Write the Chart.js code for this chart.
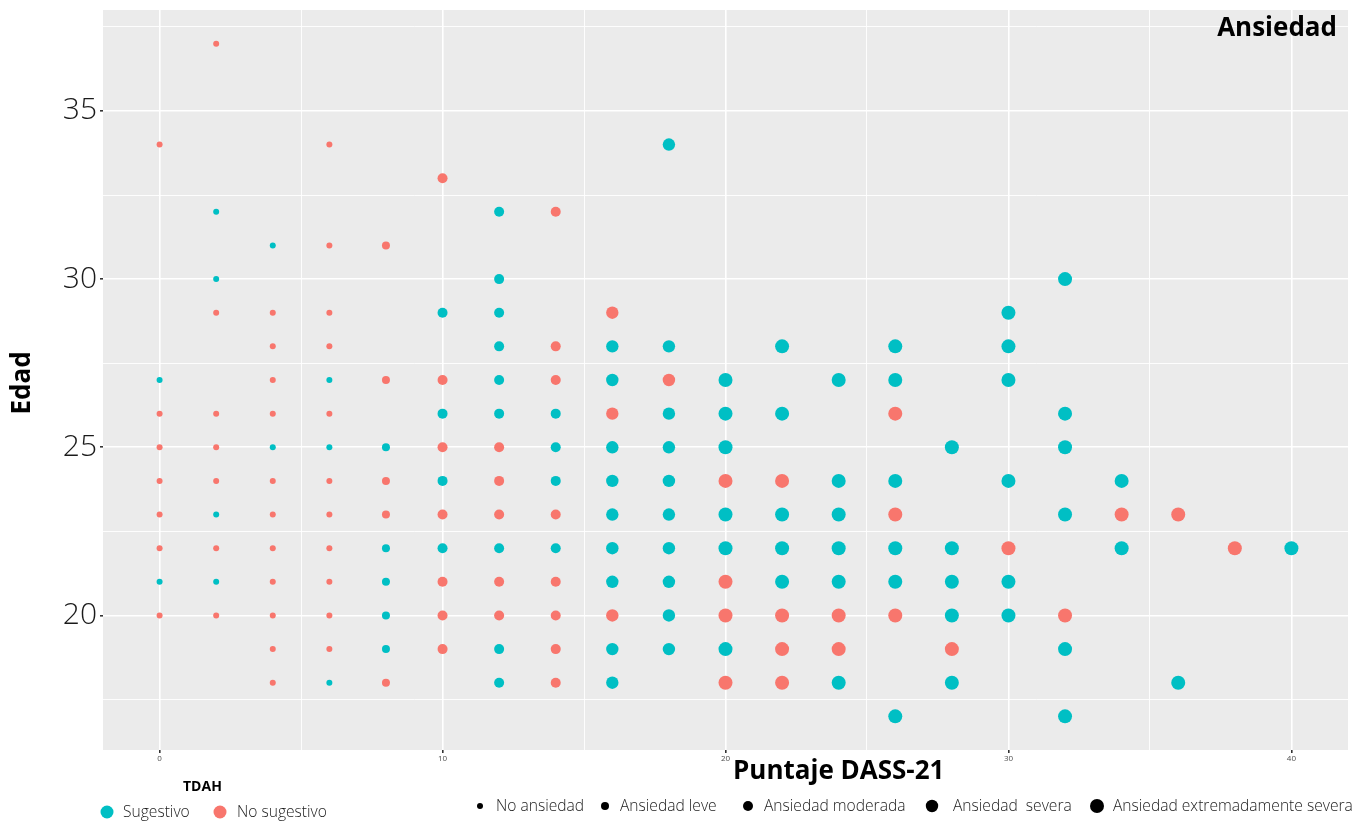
<!DOCTYPE html>
<html><head><meta charset="utf-8">
<script src="https://cdn.jsdelivr.net/npm/chart.js@4.4.1/dist/chart.umd.min.js"></script>
<style>html,body{margin:0;padding:0;background:#fff}#wrap{width:1356px;height:821px;position:relative}</style>
</head><body><div id="wrap"><canvas id="c" width="1356" height="821"></canvas></div>
<script>
// DASS-21 anxiety score columns
const scores = [0,2,4,6,8,10,12,14,16,18,20,22,24,26,28,30,32,34,36,38,40];
// anxiety category for each score column (0 = No ansiedad ... 4 = extremadamente severa)
const anxietyLevel = [0,0,0,0,1,2,2,2,3,3,4,4,4,4,4,4,4,4,4,4,4];
const levelNames = ["No ansiedad","Ansiedad leve","Ansiedad moderada","Ansiedad  severa","Ansiedad extremadamente severa"];
const groupNames = ["Sugestivo","No sugestivo"];
// ages observed at each score column, per TDAH group
const ageSugestivo = [
  [27,21],[32,30,23,21],[31,25],[27,25,18],[25,22,21,20,19],
  [29,26,24,22],[32,30,29,28,27,26,22,19,18],[26,25,24,22],
  [28,27,25,24,23,22,21,19,18],[34,28,26,25,24,23,22,21,20,19],
  [27,26,25,23,22,19],[28,26,23,22,21],[27,24,23,22,21,18],
  [28,27,24,22,21,17],[25,22,21,20,18],[29,28,27,24,21,20],
  [30,26,25,23,19,17],[24,22],[18],[],[22]
];
const ageNoSugestivo = [
  [34,26,25,24,23,22,20],[37,29,26,25,24,22,20],
  [29,28,27,26,24,23,22,21,20,19,18],[34,31,29,28,26,24,23,22,21,20,19],
  [31,27,24,23,18],[33,27,25,23,21,20,19],[25,24,23,21,20],
  [32,28,27,23,21,20,19,18],[29,26,20],[27],[24,21,20,18],
  [24,20,19,18],[20,19],[26,23,20],[19],[22],[20],[23],[23],[22],[]
];
const xTickValues = [0,5,10,15,20,25,30,35,40];
const yTickValues = [17.5,20,22.5,25,27.5,30,32.5,35,37.5];

// styles
const colors = ['#00BFC4','#F8766D'];
const radii = [3, 4, 5, 6.2, 7];
const FONT = "'Open Sans', 'Noto Sans', sans-serif";

function buildPoints(ages){
  const pts = [];
  scores.forEach((s,i)=>{ ages[i].forEach(a=>pts.push({x:s,y:a,level:anxietyLevel[i]})); });
  return pts;
}

const datasets = [ageSugestivo, ageNoSugestivo].map((ages,g)=>({
  label: groupNames[g],
  data: buildPoints(ages),
  backgroundColor: colors[g],
  borderWidth: 0,
  pointRadius: ctx => radii[ctx.raw ? ctx.raw.level : 0],
  pointHoverRadius: ctx => radii[ctx.raw ? ctx.raw.level : 0]
}));

const decor = {
  id:'decor',
  beforeDraw(chart){
    const {ctx, chartArea:a} = chart;
    ctx.save();
    ctx.fillStyle = '#fff';
    ctx.fillRect(0,0,chart.width,chart.height);
    ctx.fillStyle = '#EBEBEB';
    ctx.fillRect(a.left, a.top, a.right-a.left, a.bottom-a.top);
    ctx.restore();
  },
  afterDraw(chart){
    const {ctx, chartArea:a} = chart;
    ctx.save();
    ctx.fillStyle = '#000';
    ctx.font = `bold 26px ${FONT}`;
    ctx.textBaseline = 'middle';
    // panel title
    ctx.textAlign = 'right';
    ctx.fillText('Ansiedad', 1337, 29);
    // x title
    ctx.textAlign = 'left';
    ctx.fillText('Puntaje DASS-21', 733, 772);
    // y title
    ctx.save();
    ctx.translate(23, (a.top+a.bottom)/2 + 3);
    ctx.rotate(-Math.PI/2);
    ctx.textAlign = 'center';
    ctx.fillText('Edad', 0, 0);
    ctx.restore();
    // colour legend
    ctx.font = `bold 14px ${FONT}`;
    ctx.textAlign = 'left';
    ctx.fillText('TDAH', 183, 787);
    ctx.font = `300 15.6px ${FONT}`;
    const cl = [[107,123],[220,237]];
    groupNames.forEach((n,g)=>{
      ctx.fillStyle = colors[g];
      ctx.beginPath(); ctx.arc(cl[g][0], 812, 6.5, 0, Math.PI*2); ctx.fill();
      ctx.fillStyle = '#1a1a1a';
      ctx.fillText(n, cl[g][1], 813);
    });
    // size legend
    const sl = [[480,496],[605,620],[748,764],[932,953],[1097,1113]];
    levelNames.forEach((n,l)=>{
      ctx.fillStyle = '#000';
      ctx.beginPath(); ctx.arc(sl[l][0], 806, radii[l], 0, Math.PI*2); ctx.fill();
      ctx.fillStyle = '#1a1a1a';
      ctx.fillText(n, sl[l][1], 807);
    });
    ctx.restore();
  }
};

const gridOpts = (isMajor) => ({
  color: '#FFFFFF',
  lineWidth: ctx => (ctx.tick && isMajor(ctx.tick.value)) ? 1.6 : 0.9,
  tickColor: ctx => (ctx.tick && isMajor(ctx.tick.value)) ? '#333333' : 'rgba(0,0,0,0)',
  tickLength: 3,
  drawTicks: true
});

new Chart(document.getElementById('c'), {
  type: 'scatter',
  data: { datasets },
  plugins: [decor],
  options: {
    responsive: false,
    devicePixelRatio: 1,
    animation: false,
    layout: { padding: { top: 10, right: 8, left: 0, bottom: 0 } },
    plugins: { legend: { display: false }, tooltip: { enabled: false } },
    scales: {
      x: {
        type: 'linear', min: -2, max: 42,
        afterBuildTicks: s => { s.ticks = xTickValues.map(v=>({value:v})); },
        afterFit: s => { s.height = 71; s.paddingLeft = 0; s.paddingRight = 0; },
        border: { display: false },
        grid: gridOpts(v => v % 10 === 0),
        ticks: {
          font: { family: FONT, size: 8 }, color: '#4D4D4D', padding: 1,
          maxRotation: 0, autoSkip: false,
          callback: v => (v % 10 === 0 ? String(v) : '')
        }
      },
      y: {
        type: 'linear', min: 16, max: 38,
        afterBuildTicks: s => { s.ticks = yTickValues.map(v=>({value:v})); },
        afterFit: s => { s.width = 103; s.paddingTop = 0; s.paddingBottom = 0; },
        border: { display: false },
        grid: gridOpts(v => v % 5 === 0),
        ticks: {
          font: { family: FONT, size: 30, weight: '300' }, color: '#1a1a1a', padding: 3,
          autoSkip: false,
          callback: v => (v % 5 === 0 ? String(v) : '')
        }
      }
    }
  }
});
</script></body></html>
